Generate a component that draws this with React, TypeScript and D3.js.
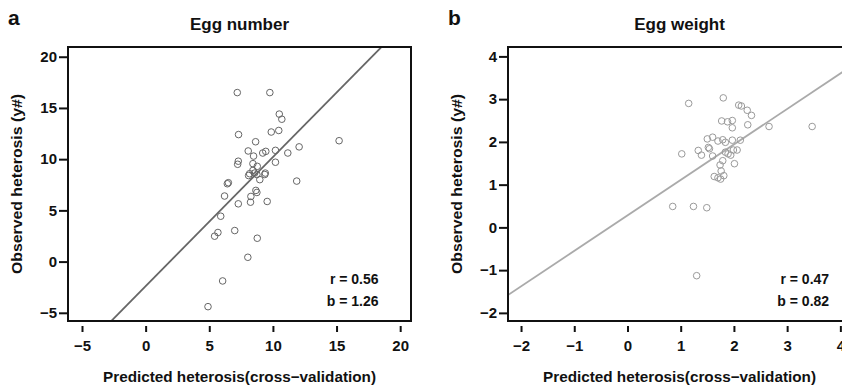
import React, { useEffect, useRef } from 'react';
import * as d3 from 'd3';

// Egg number panel (a)
const eggNumberPred = [
  7.2, 9.76, 10.5, 10.7, 7.3, 9.87, 10.46, 8.64, 15.2, 8.06, 8.48, 9.2, 9.44, 10.2, 11.17, 12.06,
  7.28, 7.23, 8.43, 8.77, 10.2, 8.43, 8.17, 8.56, 8.09, 8.74, 9.4, 9.36, 8.97, 6.5, 6.42, 11.87,
  8.66, 8.74, 6.2, 8.27, 7.28, 8.24, 9.55, 5.9, 5.68, 5.42, 7.0, 8.77, 8.03, 6.05, 4.9,
];
const eggNumberObs = [
  16.5, 16.5, 14.4, 13.9, 12.4, 12.65, 12.8, 11.7, 11.8, 10.8, 10.3, 10.6, 10.76, 10.86, 10.6, 11.2,
  9.8, 9.5, 9.56, 9.3, 9.7, 8.9, 8.58, 8.64, 8.4, 8.5, 8.64, 8.5, 8.0, 7.7, 7.6, 7.86,
  6.95, 6.75, 6.4, 6.36, 5.64, 5.8, 5.87, 4.43, 2.84, 2.48, 3.03, 2.28, 0.42, -1.89, -4.4,
];

// Egg weight panel (b)
const eggWeightPred = [
  1.15, 1.8, 2.09, 2.14, 2.25, 2.33, 1.77, 1.88, 1.97, 1.97, 2.26, 2.66, 3.47, 1.5, 1.6, 1.7,
  1.79, 1.84, 1.97, 2.12, 1.52, 1.54, 1.33, 1.39, 1.02, 1.6, 1.84, 1.89, 1.94, 1.99, 2.06, 1.79,
  1.74, 2.01, 1.76, 1.63, 1.7, 1.75, 1.81, 0.85, 1.24, 1.49, 1.3,
];
const eggWeightObs = [
  2.9, 3.03, 2.86, 2.84, 2.74, 2.62, 2.49, 2.47, 2.5, 2.33, 2.4, 2.36, 2.36, 2.07, 2.11, 2.02,
  2.05, 1.99, 2.04, 2.04, 1.87, 1.84, 1.8, 1.69, 1.72, 1.67, 1.76, 1.72, 1.69, 1.81, 1.81, 1.56,
  1.46, 1.49, 1.32, 1.19, 1.16, 1.13, 1.21, 0.49, 0.49, 0.46, -1.13,
];

const eggNumberTicks = [-5, 0, 5, 10, 15, 20];
const eggWeightTicks = [-2, -1, 0, 1, 2, 3, 4];

interface PanelProps {
  letter: string;
  title: string;
  xs: number[];
  ys: number[];
  xLim: [number, number];
  yLim: [number, number];
  xTicks: number[];
  yTicks: number[];
  slope: number;
  intercept: number;
  rText: string;
  bText: string;
  left: number;
  right: number;
  color: string;
  lineColor: string;
}

const FONT = '"Liberation Sans", Arial, Helvetica, sans-serif';
const top = 47;
const bottom = 321;

const Panel: React.FC<PanelProps & { id: string }> = (p) => {
  const gRef = useRef<SVGGElement>(null);

  useEffect(() => {
    const g = d3.select(gRef.current);
    g.selectAll('*').remove();

    const x = d3.scaleLinear().domain(p.xLim).range([p.left, p.right]);
    const y = d3.scaleLinear().domain(p.yLim).range([bottom, top]);
    const cx = (p.left + p.right) / 2;

    g.append('clipPath')
      .attr('id', `clip-${p.id}`)
      .append('rect')
      .attr('x', p.left)
      .attr('y', top)
      .attr('width', p.right - p.left)
      .attr('height', bottom - top);

    // regression line
    const lx = p.xLim;
    g.append('line')
      .attr('clip-path', `url(#clip-${p.id})`)
      .attr('x1', x(lx[0]))
      .attr('y1', y(p.slope * lx[0] + p.intercept))
      .attr('x2', x(lx[1]))
      .attr('y2', y(p.slope * lx[1] + p.intercept))
      .attr('stroke', p.lineColor)
      .attr('stroke-width', 1.8);

    // points
    g.append('g')
      .attr('clip-path', `url(#clip-${p.id})`)
      .selectAll('circle')
      .data(p.xs.map((v, i) => ({ x: v, y: p.ys[i] })))
      .enter()
      .append('circle')
      .attr('cx', d => x(d.x))
      .attr('cy', d => y(d.y))
      .attr('r', 3.3)
      .attr('fill', 'none')
      .attr('stroke', p.color)
      .attr('stroke-width', 1);

    // box
    g.append('rect')
      .attr('x', p.left)
      .attr('y', top)
      .attr('width', p.right - p.left)
      .attr('height', bottom - top)
      .attr('fill', 'none')
      .attr('stroke', '#111')
      .attr('stroke-width', 2);

    // axes
    const xAxis = g.append('g')
      .attr('transform', `translate(0,${bottom + 5})`)
      .call(d3.axisBottom(x).tickValues(p.xTicks).tickSize(6).tickPadding(8).tickFormat(d => d3.format('')(d as number).replace('-', '\u2212')));
    const yAxis = g.append('g')
      .attr('transform', `translate(${p.left},0)`)
      .call(d3.axisLeft(y).tickValues(p.yTicks).tickSize(9).tickPadding(2).tickFormat(d => d3.format('')(d as number).replace('-', '\u2212')));

    [xAxis, yAxis].forEach(a => {
      a.select('.domain').remove();
      a.selectAll('.tick line').attr('stroke', '#111').attr('stroke-width', 2);
      a.selectAll('.tick text')
        .attr('fill', '#111')
        .attr('font-family', FONT)
        .attr('font-weight', 'bold')
        .attr('font-size', 15);
    });

    // titles
    g.append('text')
      .attr('x', cx)
      .attr('y', 30)
      .attr('text-anchor', 'middle')
      .attr('font-family', FONT)
      .attr('font-weight', 'bold')
      .attr('font-size', 17)
      .attr('fill', '#111')
      .text(p.title);

    g.append('text')
      .attr('x', p.left - 60)
      .attr('y', 25)
      .attr('font-family', FONT)
      .attr('font-weight', 'bold')
      .attr('font-size', 21)
      .attr('fill', '#111')
      .text(p.letter);

    g.append('text')
      .attr('x', cx)
      .attr('y', 382)
      .attr('text-anchor', 'middle')
      .attr('font-family', FONT)
      .attr('font-weight', 'bold')
      .attr('font-size', 15)
      .attr('fill', '#111')
      .attr('textLength', 273)
      .attr('lengthAdjust', 'spacingAndGlyphs')
      .text('Predicted heterosis(cross\u2212validation)');

    g.append('text')
      .attr('transform', `translate(${p.left - 46},${(top + bottom) / 2}) rotate(-90)`)
      .attr('text-anchor', 'middle')
      .attr('font-family', FONT)
      .attr('font-weight', 'bold')
      .attr('font-size', 15)
      .attr('fill', '#111')
      .attr('textLength', 180)
      .attr('lengthAdjust', 'spacingAndGlyphs')
      .text('Observed heterosis (y#)');

    // statistics
    [p.rText, p.bText].forEach((t, i) => {
      g.append('text')
        .attr('x', x(p.xTicks[p.xTicks.length - 2]) + 42)
        .attr('y', 284 + i * 22)
        .attr('text-anchor', 'end')
        .attr('font-family', FONT)
        .attr('font-weight', 'bold')
        .attr('font-size', 14)
        .attr('fill', '#111')
        .text(t);
    });
  }, [p]);

  return <g ref={gRef} />;
};

export default function App() {
  return (
    <div style={{ position: 'absolute', left: 0, top: 0 }}>
      <svg width={842} height={387} style={{ display: 'block', background: '#fff' }}>
        <Panel
          id="a"
          letter="a"
          title="Egg number"
          xs={eggNumberPred}
          ys={eggNumberObs}
          xLim={[-6.1, 20.85]}
          yLim={[-5.8, 20.95]}
          xTicks={eggNumberTicks}
          yTicks={eggNumberTicks}
          slope={1.26}
          intercept={-2.4}
          rText="r = 0.56"
          bText="b = 1.26"
          left={68}
          right={411}
          color="#666"
          lineColor="#666"
        />
        <Panel
          id="b"
          letter="b"
          title="Egg weight"
          xs={eggWeightPred}
          ys={eggWeightObs}
          xLim={[-2.245, 4.2]}
          yLim={[-2.19, 4.22]}
          xTicks={eggWeightTicks}
          yTicks={eggWeightTicks}
          slope={0.83}
          intercept={0.28}
          rText="r = 0.47"
          bText="b = 0.82"
          left={508}
          right={851}
          color="#9a9a9a"
          lineColor="#aaa"
        />
      </svg>
    </div>
  );
}
